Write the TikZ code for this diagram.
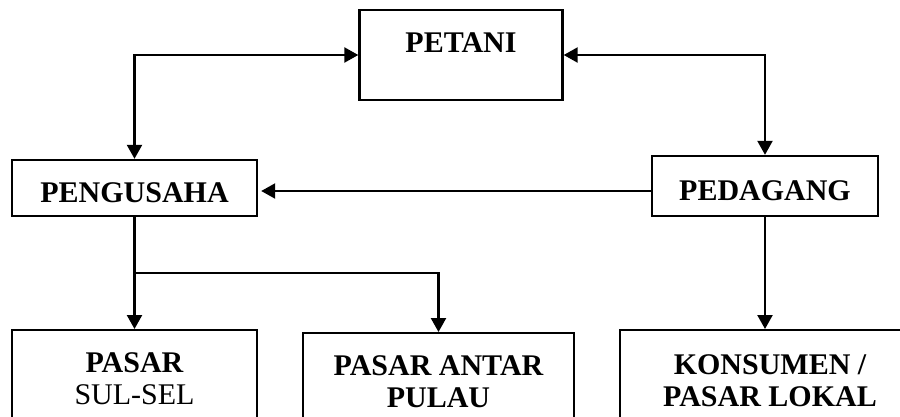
\documentclass[tikz,border=0pt]{standalone}
\usepackage{fontspec}
\setmainfont{Liberation Serif}
\usetikzlibrary{arrows.meta}

\begin{document}
\begin{tikzpicture}[x=1pt,y=-1pt,
    kotak/.style={draw,line width=2.4pt,inner xsep=0pt,inner ysep=0pt,
        font=\fontsize{30}{32}\selectfont\bfseries},
    panah/.style={line width=2.3pt,-{Triangle[length=14pt,width=15pt]}},
    duapanah/.style={line width=2.3pt,{Triangle[length=14pt,width=15pt]}-{Triangle[length=14pt,width=15pt]}}]
    \useasboundingbox (0,0) rectangle (900,416);
    \clip (0,0) rectangle (900,416);

    % Kotak atas
    \node[kotak,minimum width=203pt,text height=42pt,text depth=48pt,anchor=base] (petani) at (461,52) {PETANI};
    \node[kotak,minimum width=245pt,text height=42pt,text depth=14pt,anchor=base] (pengusaha) at (134.5,202) {PENGUSAHA};
    \node[kotak,minimum width=226pt,text height=44pt,text depth=16pt,anchor=base] (pedagang) at (765,200) {PEDAGANG};

    % Kotak bawah
    \node[kotak,align=center,minimum width=245pt,minimum height=97pt,anchor=north] (sulsel) at (134.5,329) {PASAR\\\mdseries SUL-SEL};
    \node[kotak,align=center,minimum width=271pt,minimum height=97pt,anchor=north] (antarpulau) at (438.5,332) {PASAR ANTAR\\PULAU};
    \node[kotak,align=center,minimum width=300pt,minimum height=102pt,anchor=north] (konsumen) at (770,329) {KONSUMEN /\\PASAR LOKAL};

    % Panah
    \draw[duapanah] (pengusaha.north) |- (petani.west);
    \draw[duapanah] (petani.east) -| (pedagang.north);
    \draw[panah] ([yshift=-3pt]pedagang.west |- pengusaha.east) -- ([xshift=3pt,yshift=-3pt]pengusaha.east);

    \coordinate (cabang) at (pengusaha.south |- 0,273);
    \draw[panah] (pengusaha.south) -- (sulsel.north);
    \draw[panah] (cabang) -| (antarpulau.north);
    \draw[panah] (pedagang.south) -- (pedagang.south |- konsumen.north);
\end{tikzpicture}
\end{document}
